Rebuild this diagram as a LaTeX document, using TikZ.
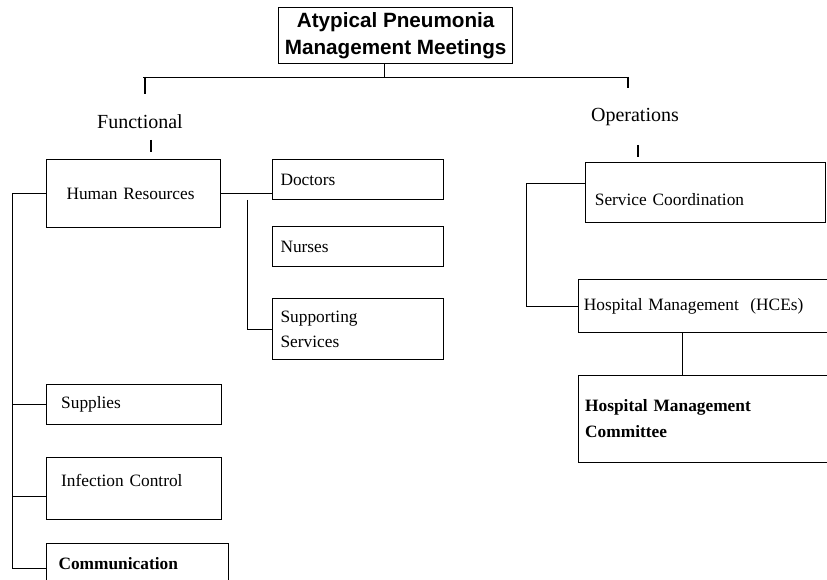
\documentclass[tikz,border=0pt]{standalone}
\usepackage{fontspec}
\setmainfont{Liberation Serif}
\newfontfamily\arialfont{Liberation Sans}

\begin{document}
\begin{tikzpicture}[x=0.75pt,y=-0.75pt,
  box/.style={draw, line width=0.8pt, anchor=north west, align=left, inner ysep=0pt,
    font=\fontsize{13}{19}\selectfont},
  link/.style={line width=0.7pt},
  tick/.style={line width=0.9pt},
  head/.style={font=\fontsize{15}{18}\selectfont}]
\useasboundingbox (0,0) rectangle (827,580);

% title and top branch
\node[box, font=\arialfont\bfseries\fontsize{15.5}{20}\selectfont, align=center,
  line width=1pt, inner xsep=0pt, minimum width=175.5pt, minimum height=42pt]
  (apm) at (278,7) {Atypical Pneumonia\\Management Meetings};
\coordinate (mid) at (384,77);
\coordinate (fl) at (143,77);
\coordinate (op) at (628,77);
\draw[link] (fl) -- (op);
\draw[link] (mid |- apm.south) -- (mid);
\draw[tick] ([xshift=1.5pt]fl) -- +(0,17);
\draw[tick] (op) -- +(0,11);

\node[head] (func) at (140,122) {Functional};
\node[head] (oper) at (635,117) {Operations};
\coordinate (ft) at (151,140);
\coordinate (ot) at (638,145);
\draw[tick] (ft) -- +(0,12);
\draw[tick] (ot) -- +(0,12);

% functional side
\node[box, minimum height=51pt, inner xsep=15pt, text width=100.5pt] (hr) at (46,159) {Human Resources};
\node[box, minimum height=30pt, inner xsep=6pt, text width=116.25pt] (doc) at (272,159) {Doctors};
\node[box, minimum height=30pt, inner xsep=6pt, text width=116.25pt] (nur) at (272,226) {Nurses};
\node[box, minimum height=45.75pt, inner xsep=6pt, text width=116.25pt] (supp) at (272,298) {Supporting\\Services};
\node[box, minimum height=30pt, inner xsep=11pt, text width=109.25pt] (sup) at (46,384) {Supplies};
\node[box, minimum height=46.5pt, inner xsep=11pt, text width=109.25pt, text depth=12pt] (inf) at (46,457) {Infection Control};
\node[box, minimum height=30pt, inner xsep=9pt, text width=118.5pt, font=\bfseries\fontsize{13}{19}\selectfont]
  (com) at (46,543) {Communication};

\draw[link] (hr.east) -- (hr.east -| doc.west);
\coordinate (hb) at (247,200);
\draw[link] (hb) |- (supp.west);
\coordinate (spine) at (12,0);
\draw[link] (hr.west) -- (hr.west -| spine) |- ([yshift=-4pt]com.west);
\draw[link] (sup.west) -- (sup.west -| spine);
\draw[link] ([yshift=-6pt]inf.west) -- ([yshift=-6pt]inf.west -| spine);

% operations side
\node[box, minimum height=45pt, inner xsep=7pt, text width=166pt, text height=20pt] (sc) at (585,162) {Service Coordination};
\node[box, minimum height=39.75pt, inner xsep=4pt, text width=192.25pt] (hce) at (578,279) {Hospital Management\ \ (HCEs)};
\node[box, minimum height=65.25pt, inner xsep=5pt, text width=190.25pt, font=\bfseries\fontsize{13}{19.5}\selectfont]
  (hmc) at (578,375) {Hospital Management\\Committee};

\coordinate (rs) at (526,0);
\draw[link] ([yshift=7pt]sc.west) -- ([yshift=7pt]sc.west -| rs) |- (hce.west);
\coordinate (hv) at (682,0);
\draw[link] (hce.south -| hv) -- (hmc.north -| hv);
\end{tikzpicture}
\end{document}
